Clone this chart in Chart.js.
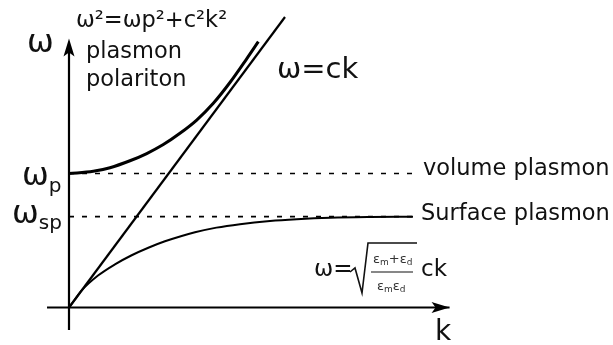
<!DOCTYPE html>
<html>
<head>
<meta charset="utf-8">
<script src="https://cdn.jsdelivr.net/npm/chart.js@4/dist/chart.umd.min.js"></script>
<style>
  html, body { margin: 0; padding: 0; background: #fff; }
  #wrap { width: 613px; height: 345px; }
</style>
</head>
<body>
<div id="wrap"><canvas id="chart" width="613" height="345"></canvas></div>
<script>
// dispersion curves, in units of omega_p (k scaled the same way)
const kLight = [0, 1.612];
const wLight = [0, 2.168];

const kPolariton = [0, 0.181, 0.306, 0.455, 0.58, 0.704, 0.828, 0.953, 1.077, 1.201, 1.326, 1.413];
const wPolariton = [1.0, 1.016, 1.043, 1.095, 1.149, 1.216, 1.300, 1.399, 1.524, 1.679, 1.856, 1.984];

const kSurface = [0, 0.04, 0.095, 0.219, 0.343, 0.468, 0.592, 0.716, 0.841, 0.94, 1.1, 1.276, 1.5, 1.70, 1.95, 2.25, 2.567];
const wSurface = [0, 0.054, 0.128, 0.240, 0.322, 0.390, 0.446, 0.494, 0.534, 0.561, 0.596, 0.622, 0.645, 0.658, 0.669, 0.675, 0.678];

const wVolume = 1.0;
const wSP = 0.678;
const kLineEnd = 2.567;

// axis extents
const kAxis = [-0.164, 2.84];
const wAxis = [-0.168, 2.008];

const pts = (xs, ys) => xs.map((x, i) => ({ x, y: ys[i] }));
const FONT = "'DejaVu Sans', sans-serif";

function arrow(ctx, tipX, tipY, dir) {
  // notched arrow head, dir: "up" or "right"
  ctx.save();
  ctx.translate(tipX, tipY);
  if (dir === "right") ctx.rotate(Math.PI / 2);
  ctx.beginPath();
  ctx.moveTo(0, 0);
  ctx.lineTo(5.5, 18);
  ctx.lineTo(0, 14);
  ctx.lineTo(-5.5, 18);
  ctx.closePath();
  ctx.fillStyle = "#000";
  ctx.fill();
  ctx.restore();
}

function text(ctx, s, x, y, size, color) {
  ctx.font = `${size}px ${FONT}`;
  ctx.fillStyle = color || "#111";
  ctx.fillText(s, x, y);
  return ctx.measureText(s).width;
}

const labels = {
  id: "labels",
  afterDatasetsDraw(chart) {
    const { ctx, scales: { x, y } } = chart;
    const x0 = x.getPixelForValue(0);
    ctx.save();
    ctx.textBaseline = "alphabetic";
    ctx.textAlign = "left";

    arrow(ctx, x0, y.getPixelForValue(wAxis[1]), "up");
    arrow(ctx, x.getPixelForValue(kAxis[1]), y.getPixelForValue(0), "right");

    // axis names
    text(ctx, "ω", 27, 52, 32);
    text(ctx, "k", 435, 340, 28);

    // tick-like level labels
    const yp = y.getPixelForValue(wVolume);
    let w = text(ctx, "ω", 22, yp + 12, 32);
    text(ctx, "p", 22 + w, yp + 19, 20);
    const ys = y.getPixelForValue(wSP);
    w = text(ctx, "ω", 12, ys + 6, 32);
    text(ctx, "sp", 12 + w, ys + 12, 20);

    // curve names
    text(ctx, "ω²=ωp²+c²k²", 76, 27, 22.5);
    text(ctx, "plasmon", 86, 58, 22.5);
    text(ctx, "polariton", 86, 86, 22.5);
    text(ctx, "ω=ck", 277, 78, 29);
    text(ctx, "volume plasmon", 423, 175, 22.5);
    text(ctx, "Surface plasmon", 421, 220, 22.5);

    // surface plasmon relation
    w = text(ctx, "ω=", 314, 276, 23);
    ctx.beginPath();
    ctx.moveTo(350, 272);
    ctx.lineTo(355, 268);
    ctx.lineTo(362, 293);
    ctx.lineTo(368, 243);
    ctx.lineTo(417, 243);
    ctx.lineWidth = 1.6;
    ctx.strokeStyle = "#111";
    ctx.stroke();
    ctx.beginPath();
    ctx.moveTo(371, 272);
    ctx.lineTo(413, 272);
    ctx.lineWidth = 1.2;
    ctx.stroke();
    let cx = 373;
    cx += text(ctx, "ε", cx, 263, 13, "#333");
    cx += text(ctx, "m", cx, 265, 9, "#333");
    cx += text(ctx, "+ε", cx, 263, 13, "#333");
    text(ctx, "d", cx, 265, 9, "#333");
    cx = 377;
    cx += text(ctx, "ε", cx, 290, 13, "#333");
    cx += text(ctx, "m", cx, 292, 9, "#333");
    cx += text(ctx, "ε", cx, 290, 13, "#333");
    text(ctx, "d", cx, 292, 9, "#333");
    text(ctx, "ck", 421, 276, 23);
    ctx.restore();
  },
};

const line = (data, width, extra) => Object.assign({
  data,
  borderColor: "#000",
  borderWidth: width,
  pointRadius: 0,
  fill: false,
  cubicInterpolationMode: "monotone",
  borderCapStyle: "butt",
}, extra || {});

new Chart(document.getElementById("chart"), {
  type: "line",
  data: {
    datasets: [
      line(pts(kAxis, [0, 0]), 2.2),
      line([{ x: 0, y: wAxis[0] }, { x: 0, y: wAxis[1] - 0.08 }], 2.2, { cubicInterpolationMode: "default" }),
      line(pts([0, kLineEnd], [wVolume, wVolume]), 1.6, { borderDash: [5, 8] }),
      line(pts([0, kLineEnd], [wSP, wSP]), 1.6, { borderDash: [5, 8] }),
      line(pts(kLight, wLight), 2.2),
      line(pts(kPolariton, wPolariton), 3),
      line(pts(kSurface, wSurface), 2),
    ],
  },
  options: {
    responsive: false,
    animation: false,
    devicePixelRatio: 1,
    layout: { padding: 0 },
    plugins: { legend: { display: false }, tooltip: { enabled: false } },
    scales: {
      x: { type: "linear", display: false, min: -0.5149, max: 4.0597 },
      y: { type: "linear", display: false, min: -0.2799, max: 2.2948 },
    },
  },
  plugins: [labels],
});
</script>
</body>
</html>
